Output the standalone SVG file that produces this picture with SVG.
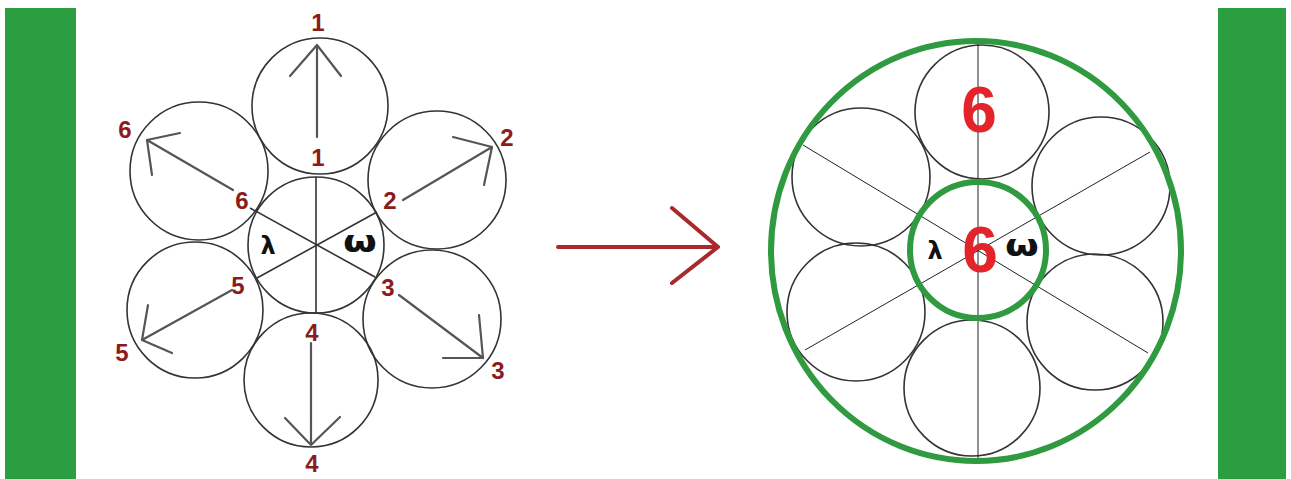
<svg xmlns="http://www.w3.org/2000/svg" width="1291" height="479" viewBox="0 0 1291 479">
<style>
.bar{fill:#2c9e42}
.c{fill:none;stroke:#333;stroke-width:1.6}
.sp{stroke:#333;stroke-width:1.6}
.sp2{stroke:#222;stroke-width:1}
.ar{fill:none;stroke:#555;stroke-width:2.2;stroke-linecap:round;stroke-linejoin:round}
.lb{font-family:"Liberation Sans",Arial,sans-serif;font-weight:bold;font-size:24px;fill:#8b1c1c;text-anchor:middle;dominant-baseline:central}
.gr{font-family:"DejaVu Sans","Liberation Sans",sans-serif;font-weight:bold;fill:#111;text-anchor:middle;dominant-baseline:central}
.big{font-family:"Liberation Sans",Arial,sans-serif;font-weight:bold;font-size:64px;fill:#e3242b;text-anchor:middle;dominant-baseline:central}
.gc{fill:none;stroke:#2f9a3f;stroke-width:6}
</style>
<rect id="bar-left" class="bar" x="5" y="8" width="71" height="471"/>
<rect id="bar-right" class="bar" x="1218" y="8" width="68" height="471"/>

<g id="left-figure">
  <g id="center-left">
    <circle class="c" cx="316" cy="245" r="68"/>
    <line class="sp" x1="316" y1="177" x2="316" y2="313"/>
    <line class="sp" x1="250" y1="208" x2="375" y2="277"/>
    <line class="sp" x1="377" y1="212" x2="257" y2="278"/>
    <text class="gr" x="268" y="246" font-size="24">λ</text>
    <text class="gr" x="360" y="242" font-size="30" transform="translate(360 242) scale(1.3 1) translate(-360 -242)">ω</text>
  </g>
  <g id="petal-1"><circle class="c" cx="320" cy="106" r="68"/><text class="lb" x="318" y="22">1</text><text class="lb" x="318" y="157">1</text></g>
  <g id="petal-2"><circle class="c" cx="437" cy="180" r="69"/><text class="lb" x="507" y="137">2</text><text class="lb" x="390" y="200">2</text></g>
  <g id="petal-3"><circle class="c" cx="432" cy="319" r="69"/><text class="lb" x="498" y="370">3</text><text class="lb" x="388" y="287">3</text></g>
  <g id="petal-4"><circle class="c" cx="311" cy="380" r="67"/><text class="lb" x="312" y="463">4</text><text class="lb" x="312" y="332">4</text></g>
  <g id="petal-5"><circle class="c" cx="195" cy="310" r="68"/><text class="lb" x="122" y="352">5</text><text class="lb" x="238" y="285">5</text></g>
  <g id="petal-6"><circle class="c" cx="199" cy="171" r="69"/><text class="lb" x="125" y="129">6</text><text class="lb" x="242" y="200">6</text></g>
</g>

<g id="connectors">
  <path class="ar" d="M317 137 L317 45 M290 76 L317 45 L341 76"/>
  <path class="ar" d="M403 200 L492 147 M453 137 L492 147 L484 185"/>
  <path class="ar" d="M399 295 L483 358 M443 358 L483 358 L479 315"/>
  <path class="ar" d="M311 343 L311 445 M285 418 L311 445 L340 417"/>
  <path class="ar" d="M232 290 L142 340 M148 305 L142 340 L172 353"/>
  <path class="ar" d="M233 190 L147 140 M180 133 L147 140 L152 175"/>
  <path id="main-arrow" d="M558 247 L718 247 M672 208 L718 247 L672 283" fill="none" stroke="#a8282c" stroke-width="4" stroke-linecap="round" stroke-linejoin="round"/>
</g>

<g id="right-figure">
  <g id="r-circles">
    <circle class="c" cx="982" cy="112" r="67"/>
    <circle class="c" cx="1101" cy="186" r="69"/>
    <circle class="c" cx="1095" cy="322" r="68"/>
    <circle class="c" cx="972" cy="388" r="68"/>
    <circle class="c" cx="856" cy="312" r="69"/>
    <circle class="c" cx="861" cy="177" r="69"/>
  </g>
  <g id="r-spokes">
    <line class="sp2" x1="978" y1="41" x2="978" y2="460"/>
    <line class="sp2" x1="803" y1="145" x2="1148" y2="353"/>
    <line class="sp2" x1="1150" y1="152" x2="805" y2="350"/>
  </g>
  <ellipse id="outer-ring" class="gc" cx="976" cy="251" rx="205" ry="210"/>
  <circle id="inner-ring" class="gc" cx="978" cy="250" r="68"/>
  <text class="big" x="979" y="110">6</text>
  <text class="big" x="980" y="250">6</text>
  <text class="gr" x="935" y="251" font-size="24">λ</text>
  <text class="gr" x="1022" y="246" font-size="30" transform="translate(1022 246) scale(1.3 1) translate(-1022 -246)">ω</text>
</g>
</svg>
